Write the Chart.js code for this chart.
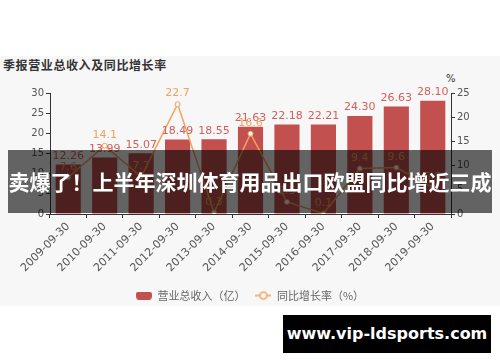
<!DOCTYPE html>
<html>
<head>
<meta charset="utf-8">
<script src="https://cdn.jsdelivr.net/npm/chart.js@4"></script>
<style>
  html, body { margin: 0; padding: 0; background: #fff; }
  #wrap { position: relative; width: 500px; height: 362px; overflow: hidden; }
  #panel { position: absolute; left: 0; top: 56px; width: 500px; height: 250px; background: #f7f7f7; }
  #box { position: absolute; left: 0; top: 56px; width: 500px; height: 256px; }
  #title { position: absolute; left: 3px; top: 56px; font: bold 12px "Noto Sans CJK SC", sans-serif; color: #333; letter-spacing: 0.6px; line-height: 18px; }
  #unit { position: absolute; left: 446px; top: 73px; font: 10px "DejaVu Sans", sans-serif; color: #333; }
  #banner { position: absolute; left: 8px; top: 150px; width: 484px; height: 63px; background: rgba(0,0,0,0.6);
            color: #fff; font: bold 21px "Noto Sans CJK SC", sans-serif; line-height: 63px; text-align: center; white-space: nowrap; z-index: 5; }
  #mark { position: absolute; left: 283px; top: 315px; width: 208px; height: 38px; background: #000; color: #fff;
          font: bold 16px "DejaVu Sans", sans-serif; line-height: 38px; text-align: center; z-index: 5; }
</style>
</head>
<body>
<div id="wrap">
  <div id="panel"></div>
  <div id="title">季报营业总收入及同比增长率</div>
  <div id="unit">%</div>
  <div id="box"><canvas id="myChart"></canvas></div>
  <div id="banner">卖爆了！上半年深圳体育用品出口欧盟同比增近三成</div>
  <div id="mark">www.vip-ldsports.com</div>
</div>
<script>
'use strict';

const dates = ['2009-09-30', '2010-09-30', '2011-09-30', '2012-09-30', '2013-09-30', '2014-09-30',
  '2015-09-30', '2016-09-30', '2017-09-30', '2018-09-30', '2019-09-30'];
const revenue = [12.26, 13.99, 15.07, 18.49, 18.55, 21.63, 22.18, 22.21, 24.30, 26.63, 28.10];
const growth = [7.6, 14.1, 7.7, 22.7, 0.3, 16.6, 2.5, 0.1, 9.4, 9.6, 5.5];
const revenueName = '营业总收入（亿）';
const growthName = '同比增长率（%）';

const barColor = '#c1504e';
const lineColor = '#f5a05a';
const numFont = "'DejaVu Sans', 'Noto Sans CJK SC', sans-serif";

// little legend icons
function makeBarIcon() {
  const c = document.createElement('canvas');
  c.width = 16; c.height = 8;
  const ctx = c.getContext('2d');
  ctx.fillStyle = barColor;
  ctx.beginPath();
  ctx.roundRect(0, 0, 16, 8, 3);
  ctx.fill();
  return c;
}
function makeLineIcon() {
  const c = document.createElement('canvas');
  c.width = 16; c.height = 10;
  const ctx = c.getContext('2d');
  ctx.strokeStyle = lineColor;
  ctx.lineWidth = 1.5;
  ctx.beginPath();
  ctx.moveTo(0, 5); ctx.lineTo(16, 5);
  ctx.stroke();
  ctx.fillStyle = '#f7f7f7';
  ctx.beginPath();
  ctx.arc(8, 5, 3.5, 0, Math.PI * 2);
  ctx.fill();
  ctx.stroke();
  return c;
}

const valueLabels = {
  id: 'valueLabels',
  afterDatasetsDraw(chart) {
    const ctx = chart.ctx;
    ctx.save();
    ctx.textAlign = 'center';
    ctx.textBaseline = 'bottom';
    ctx.font = '11px ' + numFont;
    chart.getDatasetMeta(0).data.forEach((bar, i) => {
      ctx.fillStyle = '#d0605e';
      ctx.fillText(revenue[i].toFixed(2), bar.x, bar.y - 3);
    });
    chart.getDatasetMeta(1).data.forEach((pt, i) => {
      ctx.fillStyle = lineColor;
      ctx.fillText(growth[i].toFixed(1), pt.x, pt.y - 5);
    });
    ctx.restore();
  }
};

const ctx = document.getElementById('myChart');
new Chart(ctx, {
  type: 'bar',
  data: {
    labels: dates,
    datasets: [
      {
        type: 'bar',
        label: revenueName,
        data: revenue,
        backgroundColor: barColor,
        yAxisID: 'y',
        categoryPercentage: 0.69,
        barPercentage: 1,
        order: 2,
      },
      {
        type: 'line',
        label: growthName,
        data: growth,
        borderColor: lineColor,
        borderWidth: 1.5,
        pointRadius: 2.5,
        pointBackgroundColor: '#f7f7f7',
        pointBorderColor: lineColor,
        pointBorderWidth: 1,
        tension: 0,
        yAxisID: 'y1',
        order: 1,
      },
    ],
  },
  options: {
    responsive: true,
    maintainAspectRatio: false,
    animation: false,
    layout: { padding: { top: 37, left: 0, right: 0, bottom: 1 } },
    plugins: {
      tooltip: { enabled: false },
      legend: {
        position: 'bottom',
        labels: {
          usePointStyle: true,
          pointStyleWidth: 16,
          padding: 10,
          color: '#666',
          font: { size: 11, family: "'Noto Sans CJK SC', sans-serif" },
          generateLabels() {
            return [
              { text: revenueName, pointStyle: makeBarIcon(), fontColor: '#666', datasetIndex: 0, lineWidth: 0 },
              { text: growthName, pointStyle: makeLineIcon(), fontColor: '#666', datasetIndex: 1, lineWidth: 0 },
            ];
          },
        },
      },
    },
    scales: {
      x: {
        offset: true,
        grid: { drawOnChartArea: false, tickLength: 4, color: '#333', offset: true },
        border: { color: '#333' },
        ticks: { color: '#555', maxRotation: 45, minRotation: 45, padding: 2, font: { size: 11, family: numFont } },
        afterFit(scale) { scale.height = 66; },
      },
      y: {
        position: 'left',
        min: 0, max: 30,
        ticks: { stepSize: 5, color: '#555', padding: 2, font: { size: 10, family: numFont } },
        grid: { drawOnChartArea: false, tickLength: 4, color: '#333' },
        border: { color: '#333' },
        afterFit(scale) { scale.width = 50; },
      },
      y1: {
        position: 'right',
        min: 0, max: 25,
        ticks: { stepSize: 5, color: '#555', padding: 2, font: { size: 10, family: numFont } },
        grid: { drawOnChartArea: false, tickLength: 4, color: '#333' },
        border: { color: '#333' },
        afterFit(scale) { scale.width = 49; },
      },
    },
  },
  plugins: [valueLabels],
});
</script>
</body>
</html>
